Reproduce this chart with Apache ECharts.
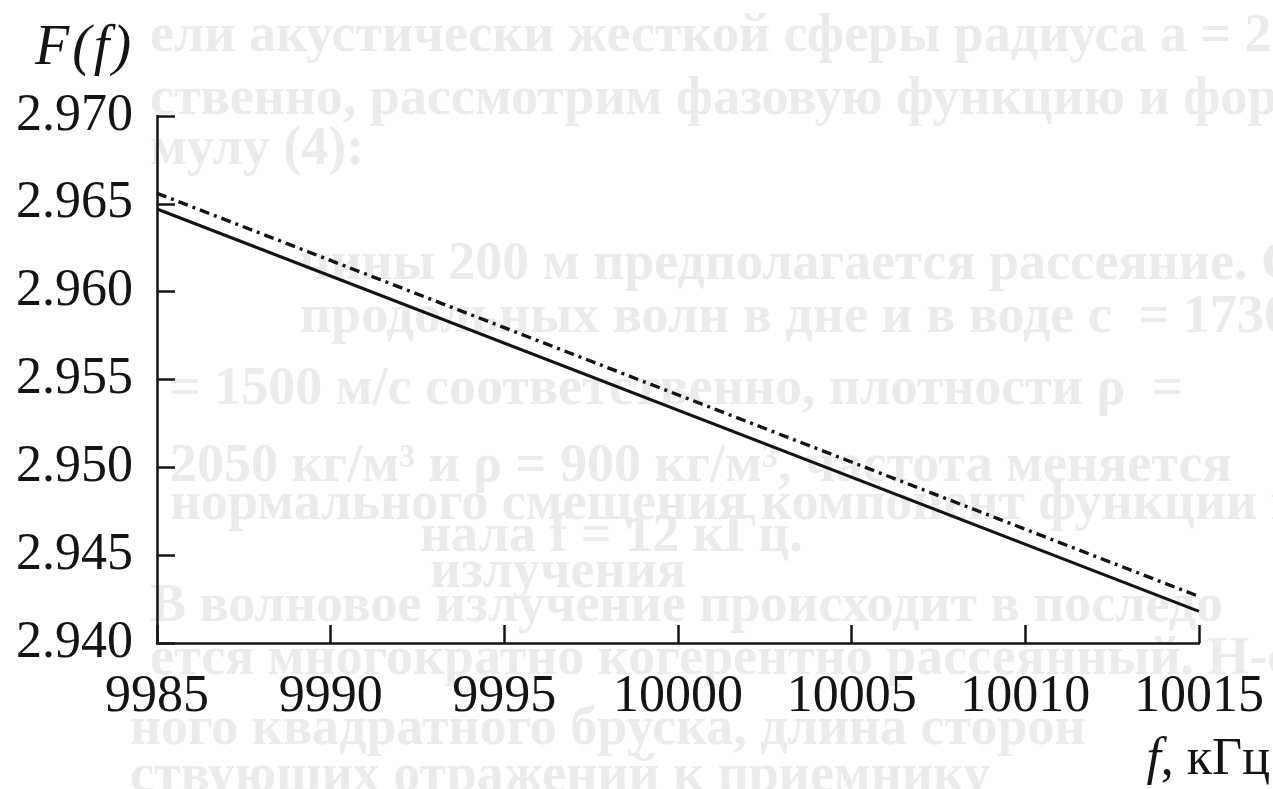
<!DOCTYPE html>
<html>
<head>
<meta charset="utf-8">
<script src="https://cdn.jsdelivr.net/npm/echarts@6/dist/echarts.min.js"></script>
<style>
  html, body { margin: 0; padding: 0; background: #ffffff; }
  #chart { width: 1273px; height: 789px; }
</style>
</head>
<body>
<div id="chart"></div>
<script>
// Frequency range, kHz
const freq = [9985, 10015];
// Phase function F(f), two computed variants
const solidF = [2.9647, 2.9418];
const dashDotF = [2.9656, 2.94265];

// Axis extents and steps
const xMin = 9985, xMax = 10015, xStep = 5;
const yMin = 2.940, yMax = 2.970, yStep = 0.005;

// Faint print showing through from the back of the page
const backLines = [
  'ели акустически жесткой сферы радиуса a = 2 м, рассеяния',
  'ственно, рассмотрим фазовую функцию и фор',
  'мулу (4):',
  'чины 200 м предполагается рассеяние. С и скорость',
  'продольных волн в дне и в воде c  = 1730 м/с, c  =',
  '= 1500 м/с соответственно, плотности ρ  =',
  '2050 кг/м³ и ρ = 900 кг/м³, частота меняется',
  'нормального смещения компонент функции f',
  'нала f = 12 кГц.',
  'излучения',
  'В волновое излучение происходит в последо',
  'ется многократно когерентно рассеянный. Н-слой',
  'ного квадратного бруска, длина сторон',
  'ствующих отражений к приемнику'
];
const backX = [150, 150, 150, 300, 300, 170, 170, 170, 420, 430, 150, 150, 130, 130];
const backY = [37, 100, 150, 265, 318, 390, 467, 505, 537, 573, 607, 660, 730, 777];

const serif = '"Liberation Serif", "DejaVu Serif", serif';
const ink = '#141414';

const chart = echarts.init(document.getElementById('chart'), null, { renderer: 'canvas' });

const backText = backLines.map((t, i) => ({
  type: 'text',
  silent: true,
  z: -10,
  x: backX[i],
  y: backY[i],
  style: {
    text: t,
    fill: '#ebebeb',
    font: 'bold 54px ' + serif,
    verticalAlign: 'middle',
    shadowColor: 'rgba(225,225,225,0.8)',
    shadowBlur: 2
  }
}));

chart.setOption({
  backgroundColor: '#ffffff',
  animation: false,
  grid: { left: 157, right: 74, top: 116, bottom: 146 },
  xAxis: {
    type: 'value',
    min: xMin, max: xMax, interval: xStep,
    axisLine: { show: true, onZero: false, lineStyle: { color: ink, width: 2.5 } },
    axisTick: { show: true, inside: true, length: 18, lineStyle: { color: ink, width: 2.5 } },
    splitLine: { show: false },
    axisLabel: {
      margin: 28,
      color: ink,
      fontFamily: serif,
      fontSize: 52,
      formatter: v => String(Math.round(v))
    }
  },
  yAxis: {
    type: 'value',
    min: yMin, max: yMax, interval: yStep,
    axisLine: { show: true, onZero: false, lineStyle: { color: ink, width: 2.5 } },
    axisTick: { show: true, inside: true, length: 18, lineStyle: { color: ink, width: 2.5 } },
    splitLine: { show: false },
    axisLabel: {
      margin: 24,
      color: ink,
      fontFamily: serif,
      fontSize: 52,
      formatter: v => v.toFixed(3)
    }
  },
  graphic: backText.concat([
    {
      type: 'text',
      silent: true,
      x: 35, y: 49,
      style: {
        text: '{i|F}{p|(}{i|f}{p|)}',
        verticalAlign: 'middle',
        rich: {
          i: { fontFamily: serif, fontStyle: 'italic', fontSize: 56, fill: ink },
          p: { fontFamily: serif, fontStyle: 'italic', fontSize: 56, fill: ink, padding: [0, 3, 0, 3] }
        }
      }
    },
    {
      type: 'text',
      silent: true,
      x: 1270, y: 760,
      style: {
        text: '{i|f}{n|, кГц}',
        align: 'right',
        verticalAlign: 'middle',
        rich: {
          i: { fontFamily: serif, fontStyle: 'italic', fontSize: 52, fill: ink },
          n: { fontFamily: serif, fontSize: 52, fill: ink }
        }
      }
    }
  ]),
  series: [
    {
      type: 'line',
      data: freq.map((f, i) => [f, solidF[i]]),
      showSymbol: false,
      silent: true,
      z: 3,
      lineStyle: { color: ink, width: 3.2, type: 'solid' }
    },
    {
      type: 'line',
      data: freq.map((f, i) => [f, dashDotF[i]]),
      showSymbol: false,
      silent: true,
      z: 3,
      lineStyle: { color: ink, width: 3.4, type: [10, 5, 3, 5] }
    }
  ]
});
</script>
</body>
</html>
